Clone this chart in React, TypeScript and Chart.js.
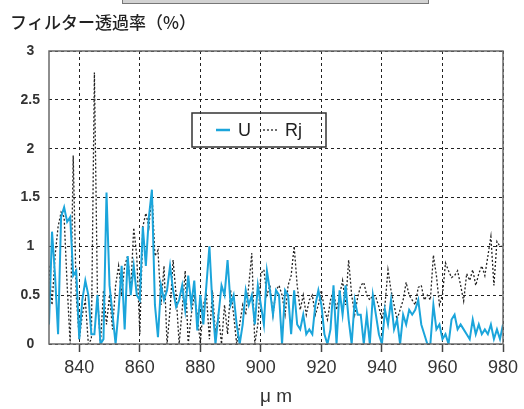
import React, { useEffect, useRef } from "react";
import { Chart, registerables } from "chart.js";

Chart.register(...registerables);

// wavelength (µm axis) categories, 1 step per sample
const wavelengths = [
  830, 831, 832, 833, 834, 835, 836, 837, 838, 839,
  840, 841, 842, 843, 844, 845, 846, 847, 848, 849,
  850, 851, 852, 853, 854, 855, 856, 857, 858, 859,
  860, 861, 862, 863, 864, 865, 866, 867, 868, 869,
  870, 871, 872, 873, 874, 875, 876, 877, 878, 879,
  880, 881, 882, 883, 884, 885, 886, 887, 888, 889,
  890, 891, 892, 893, 894, 895, 896, 897, 898, 899,
  900, 901, 902, 903, 904, 905, 906, 907, 908, 909,
  910, 911, 912, 913, 914, 915, 916, 917, 918, 919,
  920, 921, 922, 923, 924, 925, 926, 927, 928, 929,
  930, 931, 932, 933, 934, 935, 936, 937, 938, 939,
  940, 941, 942, 943, 944, 945, 946, 947, 948, 949,
  950, 951, 952, 953, 954, 955, 956, 957, 958, 959,
  960, 961, 962, 963, 964, 965, 966, 967, 968, 969,
  970, 971, 972, 973, 974, 975, 976, 977, 978, 979,
  980,
];

const uValues = [
  0.2, 1.15, 0.7, 0.1, 1.3, 1.4, 1.25, 1.3, 0.7, 0.75,
  0.05, 0.45, 0.65, 0.5, 0.1, 0.1, 0.5, 0.0, 0.05, 1.55,
  0.6, 0.3, 0.0, 0.35, 0.8, 0.15, 0.9, 0.5, 0.8, 0.5,
  0.45, 1.2, 0.8, 1.3, 1.58, 0.4, 0.07, 0.6, 0.45, 0.55,
  0.8, 0.55, 0.38, 0.45, 0.6, 0.35, 0.7, 0.4, 0.65, 0.14,
  0.5, 0.2, 0.6, 1.0, 0.4, 0.0, 0.3, 0.6, 0.5, 0.86,
  0.4, 0.5, 0.2, 0.0, 0.2, 0.55, 0.4, 0.5, 0.2, 0.6,
  0.4, 0.2, 0.75, 0.55, 0.3, 0.55, 0.5, 0.0, 0.55, 0.5,
  0.1, 0.55, 0.2, 0.15, 0.3, 0.1, 0.15, 0.1, 0.4, 0.55,
  0.4, 0.1, 0.0, 0.15, 0.6, 0.0, 0.55, 0.3, 0.6, 0.25,
  0.0, 0.45, 0.3, 0.3, 0.0, 0.3, 0.0, 0.5, 0.3, 0.1,
  0.0, 0.35, 0.2, 0.45, 0.15, 0.25, 0.0, 0.3, 0.2, 0.35,
  0.3, 0.35, 0.45, 0.2, 0.1, 0.0, 0.0, 0.4, 0.15, 0.2,
  0.05, 0.1, 0.0, 0.25, 0.3, 0.15, 0.2, 0.15, 0.1, 0.05,
  0.25, 0.1, 0.2, 0.1, 0.15, 0.1, 0.2, 0.05, 0.15, 0.05,
  0.2,
];

const rjValues = [
  0.8, 0.4, 0.9, 1.2, 1.35, 1.3, 0.6, 0.0, 1.93, 0.5,
  0.05, 0.3, 0.45, 0.0, 0.05, 2.78, 0.5, 0.0, 0.55, 0.2,
  0.5, 0.15, 0.6, 0.8, 0.5, 0.8, 0.9, 0.55, 1.19, 0.9,
  0.1, 1.2, 1.34, 1.2, 1.55, 0.9, 0.96, 0.4, 0.8, 0.0,
  0.35, 0.86, 0.5, 0.0, 0.35, 0.75, 0.0, 0.3, 0.5, 0.3,
  0.0, 0.4, 0.5, 0.05, 0.55, 0.1, 0.3, 0.0, 0.4, 0.1,
  0.55, 0.3, 0.0, 0.2, 0.4, 0.3, 0.6, 0.93, 0.0, 0.2,
  0.72, 0.76, 0.5, 0.6, 0.3, 0.55, 0.6, 0.5, 0.3, 0.6,
  0.7, 1.0, 0.6, 0.35, 0.5, 0.3, 0.45, 0.5, 0.3, 0.4,
  0.55, 0.35, 0.25, 0.45, 0.55, 0.35, 0.5, 0.65, 0.4, 0.86,
  0.5, 0.3, 0.48, 0.6, 0.63, 0.5, 0.45, 0.5, 0.48, 0.38,
  0.25, 0.4, 0.76, 0.55, 0.4, 0.25, 0.35, 0.45, 0.63, 0.5,
  0.45, 0.4, 0.58, 0.6, 0.45, 0.5, 0.45, 0.91, 0.7, 0.4,
  0.5, 0.83, 0.75, 0.68, 0.7, 0.75, 0.6, 0.44, 0.72, 0.65,
  0.76, 0.6, 0.72, 0.8, 0.7, 0.9, 1.1, 0.6, 1.05, 1.0,
  1.0,
];

const xTicks = [840, 860, 880, 900, 920, 940, 960, 980];
const yTicks = [0, 0.5, 1, 1.5, 2, 2.5, 3];
const seriesNames = ["U", "Rj"];
const titleText = "フィルター透過率（%）";
const xTitle = "μ m";

const U_COLOR = "#1ba5db";
const RJ_COLOR = "#222222";

const framePlugin = {
  id: "frameAndLegend",
  afterDraw(chart: any) {
    const { ctx, chartArea } = chart;
    const { left, top, right, bottom } = chartArea;
    ctx.save();
    ctx.strokeStyle = "#6a6a6a";
    ctx.lineWidth = 1.5;
    ctx.setLineDash([]);
    ctx.strokeRect(left, top, right - left, bottom - top);

    // legend box inside plot
    const bx = left + 143;
    const by = top + 62;
    const bw = 134;
    const bh = 34;
    ctx.strokeStyle = "#333";
    ctx.lineWidth = 1.5;
    ctx.strokeRect(bx, by, bw, bh);
    const my = by + bh / 2;
    ctx.strokeStyle = U_COLOR;
    ctx.lineWidth = 2.5;
    ctx.beginPath();
    ctx.moveTo(bx + 24, my);
    ctx.lineTo(bx + 38, my);
    ctx.stroke();
    ctx.fillStyle = "#222";
    ctx.font = "18px 'Liberation Sans', Arial, sans-serif";
    ctx.textBaseline = "middle";
    ctx.textAlign = "left";
    ctx.fillText(seriesNames[0], bx + 46, my + 1);
    ctx.strokeStyle = RJ_COLOR;
    ctx.lineWidth = 1.3;
    ctx.setLineDash([2, 2]);
    ctx.beginPath();
    ctx.moveTo(bx + 71, my);
    ctx.lineTo(bx + 87, my);
    ctx.stroke();
    ctx.setLineDash([]);
    ctx.fillText(seriesNames[1], bx + 93, my + 1);
    ctx.restore();
  },
};

export default function App() {
  const canvasRef = useRef<HTMLCanvasElement | null>(null);

  useEffect(() => {
    const canvas = canvasRef.current;
    if (!canvas) return;
    const uData = wavelengths.map((x, i) => ({ x, y: uValues[i] }));
    const rjData = wavelengths.map((x, i) => ({ x, y: rjValues[i] }));
    const chart = new Chart(canvas, {
      type: "line",
      data: {
        datasets: [
          {
            label: seriesNames[0],
            data: uData,
            borderColor: U_COLOR,
            borderWidth: 2,
            pointRadius: 0,
            tension: 0,
            fill: false,
          },
          {
            label: seriesNames[1],
            data: rjData,
            borderColor: RJ_COLOR,
            borderWidth: 1.3,
            borderDash: [2, 2],
            pointRadius: 0,
            tension: 0,
            fill: false,
          },
        ],
      },
      options: {
        animation: false,
        responsive: false,
        devicePixelRatio: 1,
        layout: { padding: { left: 10, right: 21, top: 0, bottom: 0 } },
        plugins: {
          legend: { display: false },
          tooltip: { enabled: false },
          title: {
            display: true,
            text: titleText,
            align: "start",
            color: "#222",
            font: { family: "'Noto Sans CJK JP', sans-serif", size: 17, weight: "500" },
            padding: { top: 12, bottom: 18.6 },
          },
        },
        scales: {
          x: {
            type: "linear",
            min: 830,
            max: 980,
            afterBuildTicks: (s: any) => {
              s.ticks = xTicks.map((v) => ({ value: v }));
            },
            afterFit: (s: any) => {
              s.height = 65;
            },
            ticks: {
              color: "#333",
              font: { family: "'Liberation Sans', Arial, sans-serif", size: 18 },
              padding: 5,
              maxRotation: 0,
              autoSkip: false,
              callback: (v: any) => String(v),
            },
            grid: {
              color: "#222",
              lineWidth: 1,
              tickLength: 8,
              tickColor: "#444",
              tickWidth: 1.5,
              tickBorderDash: [],
            },
            border: { display: false, dash: [3, 3] },
            title: {
              display: true,
              text: xTitle,
              color: "#333",
              font: { family: "'Liberation Sans', Arial, sans-serif", size: 19 },
              padding: { top: 0, bottom: 1 },
            },
          },
          y: {
            min: 0,
            max: 3,
            afterBuildTicks: (s: any) => {
              s.ticks = yTicks.map((v) => ({ value: v }));
            },
            afterFit: (s: any) => {
              s.width = 39;
            },
            ticks: {
              color: "#333",
              font: { family: "'Liberation Sans', Arial, sans-serif", size: 14, weight: "bold" },
              padding: 9,
              crossAlign: "center",
              callback: (v: any) => String(v),
            },
            grid: {
              color: "#222",
              lineWidth: 1,
              drawTicks: false,
            },
            border: { display: false, dash: [3, 3] },
          },
        },
      },
      plugins: [framePlugin],
    } as any);
    return () => chart.destroy();
  }, []);

  return (
    <div
      style={{
        position: "fixed",
        left: 0,
        top: 0,
        width: 524,
        height: 409,
        background: "#fff",
        overflow: "hidden",
      }}
    >
      <canvas
        ref={canvasRef}
        width={524}
        height={409}
        style={{ position: "absolute", left: 0, top: 0, width: 524, height: 409 }}
      />
      <div
        style={{
          position: "absolute",
          left: 122,
          top: -8,
          width: 307,
          height: 12,
          background: "#d2d2d2",
          border: "1px solid #777",
          boxSizing: "border-box",
        }}
      />
    </div>
  );
}
